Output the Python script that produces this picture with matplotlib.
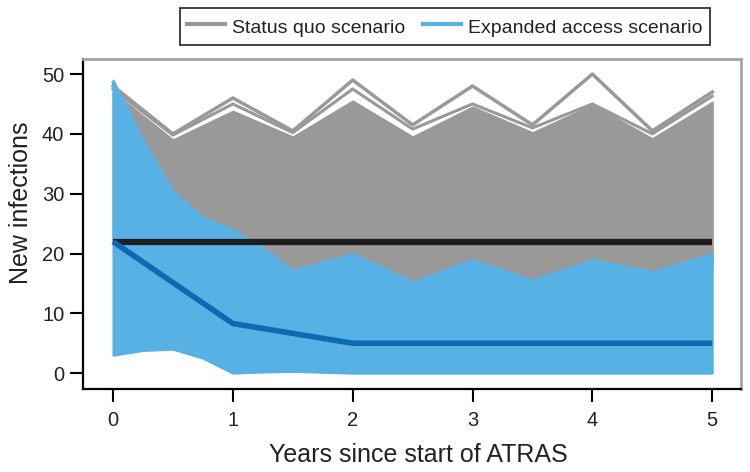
import matplotlib
matplotlib.use("Agg")
import matplotlib.pyplot as plt
from matplotlib.lines import Line2D

plt.rcParams['font.family'] = ['Liberation Sans', 'DejaVu Sans']

# ---------------- data ----------------
years_sq = [0, 0.5, 1, 1.5, 2, 2.5, 3, 3.5, 4, 4.5, 5]
# status quo: outlier simulation lines above the bulk
sq_top1 = [48, 40, 46, 40.5, 49, 41.5, 48, 41.5, 50, 40.5, 47]
sq_top2 = [47.5, 39.8, 45, 40.2, 47.5, 40.8, 45, 41, 45, 40, 46.3]
# status quo: bulk of simulations (upper / lower envelope)
sq_bulk_hi = [47, 39, 43.8, 39.5, 45.5, 39.5, 44.5, 40.2, 44.8, 39.2, 45.3]
sq_bulk_lo = [22, 19, 17.5, 16.6, 19.5, 14.7, 18.5, 15.3, 18.5, 14.8, 18]

years_ea = [0, 0.25, 0.5, 0.75, 1, 1.25, 1.5, 2, 2.5, 3, 3.5, 4, 4.5, 5]
# expanded access: envelope of simulations
ea_hi = [49, 39, 30.5, 26, 24, 21, 17.2, 20, 15.3, 19, 15.6, 19, 17, 20]
ea_lo = [3, 3.8, 4, 2.5, 0, 0.2, 0.3, 0, 0, 0, 0, 0, 0, 0]
# expanded access: a visible outlier line inside the band
ea_line = [48.5, 38, 30, 25.5, 23.5, 20.5, 16.8, 19.5, 15, 18.7, 15.4, 18.5, 16.5, 19.5]

years_med = [0, 1, 2, 3, 4, 5]
sq_median = [22, 22, 22, 22, 22, 22]
ea_median = [22, 8.3, 5, 5, 5, 5]

x_ticks = [0, 1, 2, 3, 4, 5]
y_ticks = [0, 10, 20, 30, 40, 50]
legend_labels = ["Status quo scenario", "Expanded access scenario"]

# ---------------- styling ----------------
GRAY = "#999999"
BLUE = "#58B1E4"
DARKBLUE = "#0B6AB0"
BLACK = "#1e1e1e"

fig = plt.figure(figsize=(7.5, 4.72), dpi=100)
ax = fig.add_axes([0.1107, 0.1758, 0.8773, 0.699])

# status quo band
ax.fill_between(years_sq, sq_bulk_lo, sq_bulk_hi, color=GRAY, lw=1.5, edgecolor=GRAY, zorder=1)
ax.plot(years_sq, sq_top2, color=GRAY, lw=2.2, zorder=1.2)
ax.plot(years_sq, sq_top1, color=GRAY, lw=2.5, zorder=1.2)

# expanded access band
ax.fill_between(years_ea, ea_lo, ea_hi, color=BLUE, lw=1.5, edgecolor=BLUE, zorder=2)
ax.plot(years_ea, ea_line, color=BLUE, lw=2, zorder=2.1)

# medians
ax.plot(years_med, sq_median, color=BLACK, lw=4.5, solid_capstyle='butt', zorder=4)
ax.plot(years_med, ea_median, color=DARKBLUE, lw=4, solid_capstyle='butt', zorder=5)

ax.set_xlim(-0.25, 5.24)
ax.set_ylim(-2.65, 52.5)
ax.set_xticks(x_ticks)
ax.set_yticks(y_ticks)
ax.set_xticklabels([str(v) for v in x_ticks])
ax.set_yticklabels([str(v) for v in y_ticks])
ax.tick_params(axis='both', direction='out', length=9.5, width=1.5, labelsize=14.5,
               color='black', labelcolor='#222222')
ax.tick_params(axis='y', pad=4)
ax.tick_params(axis='x', pad=6)

for s in ['left', 'bottom']:
    ax.spines[s].set_color('black')
    ax.spines[s].set_linewidth(1.6)
for s in ['top', 'right']:
    ax.spines[s].set_color('#a6a6a6')
    ax.spines[s].set_linewidth(2)

fig.text(21 / 750, 1 - 203 / 472, "New infections", rotation=90, ha='center', va='center',
         fontsize=18, color='#222222')
fig.text(418 / 750, 1 - 455 / 472, "Years since start of ATRAS", ha='center', va='center',
         fontsize=18, color='#222222')

handles = [Line2D([0], [0], color=GRAY, lw=3), Line2D([0], [0], color=BLUE, lw=3)]
leg = fig.legend(handles, legend_labels, loc='center', bbox_to_anchor=(0.593, 0.944),
                 ncol=2, frameon=True, fancybox=False, fontsize=14, handlelength=1.95,
                 handletextpad=0.36, columnspacing=0.9, borderpad=0.38, handleheight=1.4,
                 borderaxespad=0)
leg.get_frame().set_edgecolor('black')
leg.get_frame().set_linewidth(1.3)
for t in leg.get_texts():
    t.set_color('#222222')

fig.savefig("out.png", dpi=100)
